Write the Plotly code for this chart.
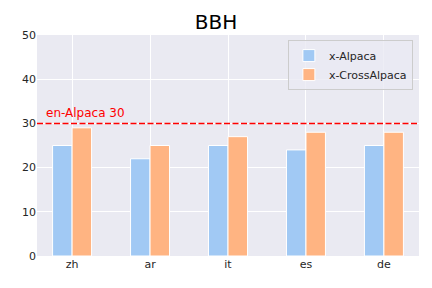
import plotly.graph_objects as go

categories = ["zh", "ar", "it", "es", "de"]
x_alpaca = [25, 22, 25, 24, 25]
x_cross_alpaca = [29, 25, 27, 28, 28]
baseline_value = 30
baseline_label = "en-Alpaca 30"

fig = go.Figure()
fig.add_trace(go.Bar(x=categories, y=x_alpaca, name="x-Alpaca",
                     marker=dict(color="#A1C9F4", line=dict(color="white", width=1))))
fig.add_trace(go.Bar(x=categories, y=x_cross_alpaca, name="x-CrossAlpaca",
                     marker=dict(color="#FFB482", line=dict(color="white", width=1))))

fig.add_hline(y=baseline_value, line=dict(color="#FF0000", dash="6px,2.5px", width=1.5))
fig.add_annotation(x=-0.36, y=baseline_value, xref="x", yref="y", text=baseline_label,
                   showarrow=False, xanchor="left", yanchor="bottom", yshift=1,
                   font=dict(color="red", size=12, family="DejaVu Sans"))

fig.update_layout(
    width=432, height=288,
    margin=dict(l=37, r=13, t=35, b=32),
    paper_bgcolor="white", plot_bgcolor="#EAEAF2",
    font=dict(family="DejaVu Sans", color="#262626", size=11),
    title=dict(text="BBH", x=0.5, xanchor="center", y=0.925, yanchor="middle",
               font=dict(size=20, color="black")),
    barmode="group", bargap=0.5, bargroupgap=0,
    showlegend=True,
    legend=dict(x=0.984, y=0.977, xanchor="right", yanchor="top",
                bgcolor="rgba(234,234,242,0.8)", bordercolor="#CCCCCC", borderwidth=1,
                font=dict(size=11, color="#262626"), tracegroupgap=0),
    xaxis=dict(range=[-0.45, 4.45], showgrid=True, gridcolor="white", gridwidth=1,
               ticks="", zeroline=False, showline=False),
    yaxis=dict(range=[0, 50], dtick=10, showgrid=True, gridcolor="white", gridwidth=1,
               ticks="", zeroline=False, showline=False),
)

fig.write_html("out.html", config={"displayModeBar": False},
               post_script="document.body.style.margin='0';")
